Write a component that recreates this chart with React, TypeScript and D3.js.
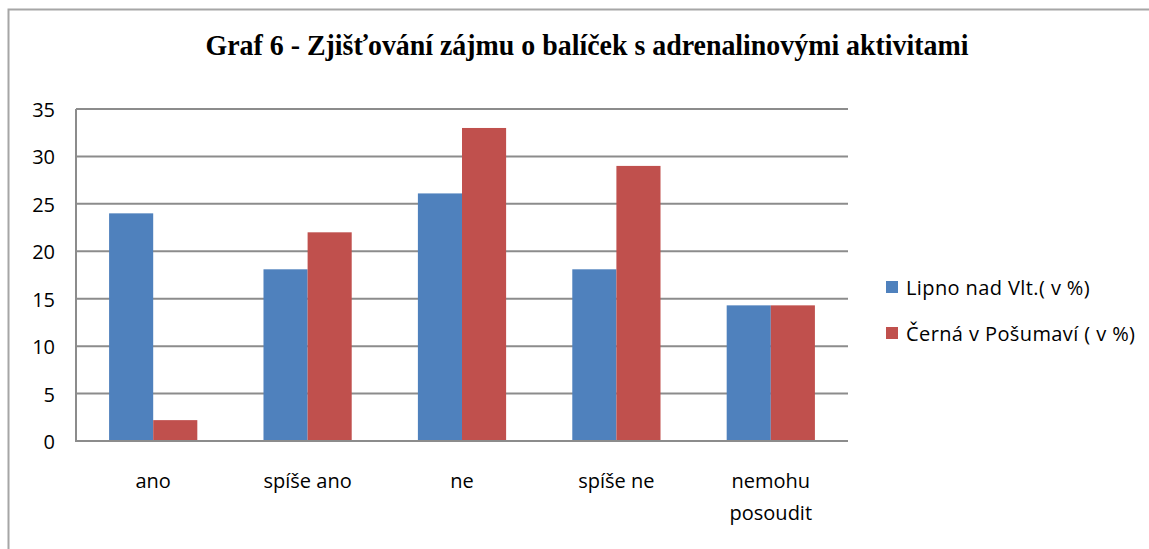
import React from 'react';
import * as d3 from 'd3';

// data
const categories = ['ano', 'spíše ano', 'ne', 'spíše ne', 'nemohu posoudit'];
const lipno = [24, 18.1, 26.1, 18.1, 14.3];
const cerna = [2.2, 22, 33, 29, 14.3];
const seriesNames = ['Lipno nad Vlt.( v %)', 'Černá v Pošumaví ( v %)'];
const yTicks = [0, 5, 10, 15, 20, 25, 30, 35];
const title = 'Graf 6 - Zjišťování zájmu o balíček s adrenalinovými aktivitami';

const colors = ['#4F81BD', '#C0504D'];

const App = () => {
  const W = 1149;
  const H = 549;
  const margin = { top: 109, left: 76, right: 301, bottom: 108 };
  const plotW = W - margin.left - margin.right;
  const plotH = H - margin.top - margin.bottom;

  const x = d3.scaleBand().domain(categories).range([0, plotW]).paddingInner(0.4286).paddingOuter(0.2143);
  const y = d3.scaleLinear().domain([0, 35]).range([plotH, 0]);
  const bw = x.bandwidth() / 2;

  const series = [lipno, cerna];
  const font = "'Open Sans', 'DejaVu Sans', sans-serif";

  return (
    <svg width={W} height={H} style={{ position: 'absolute', left: 0, top: 0, background: '#fff' }}>
      {/* chart frame */}
      <rect x={8.5} y={9.5} width={W + 20} height={H + 20} fill="none" stroke="#a6a6a6" strokeWidth={2} />
      <text x={587} y={55} textAnchor="middle" fontFamily="'Liberation Serif', 'Times New Roman', serif"
        fontWeight="bold" fontSize={29} textLength={763} lengthAdjust="spacingAndGlyphs">{title}</text>

      <g transform={`translate(${margin.left},${margin.top})`}>
        {yTicks.map((t) => (
          <g key={t}>
            {t > 0 && <line x1={0} x2={plotW} y1={y(t)} y2={y(t)} stroke="#8c8c8c" strokeWidth={2} />}
            <text x={-21} y={y(t) + 1} dy="0.35em" textAnchor="end" fontFamily={font} fontSize={20} fill="#000">{t}</text>
          </g>
        ))}

        {categories.map((c, i) => {
          const cx = (x(c) as number) + x.bandwidth() / 2;
          return (
            <g key={c}>
              {series.map((s, k) => (
                <rect key={k} x={(x(c) as number) + k * bw} y={y(s[i])} width={bw} height={plotH - y(s[i])} fill={colors[k]} />
              ))}
              <text y={plotH + 40} textAnchor="middle" fontFamily={font} fontSize={20} fill="#000">
                {c.includes('nemohu')
                  ? c.split(' ').map((w, j) => <tspan key={j} x={cx} dy={j === 0 ? '0.35em' : 32}>{w}</tspan>)
                  : <tspan x={cx} dy="0.35em">{c}</tspan>}
              </text>
            </g>
          );
        })}

        <line x1={0} x2={0} y1={0} y2={plotH} stroke="#8c8c8c" strokeWidth={2} />
        <line x1={-1} x2={plotW} y1={plotH} y2={plotH} stroke="#8c8c8c" strokeWidth={2} />
      </g>

      {seriesNames.map((n, k) => (
        <g key={n} transform={`translate(886,${281 + k * 46})`}>
          <rect x={0} y={0} width={12} height={12} fill={colors[k]} />
          <text x={20} y={7} dy="0.35em" fontFamily={font} fontSize={20} letterSpacing={0.4} fill="#000">{n}</text>
        </g>
      ))}
    </svg>
  );
};

export default App;
